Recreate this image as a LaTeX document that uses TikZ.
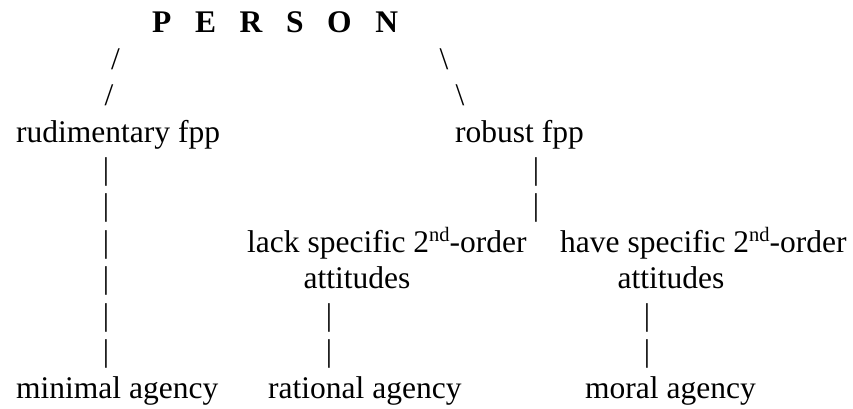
\documentclass[tikz,border=0pt]{standalone}
\usepackage{fontspec}
\setmainfont{Liberation Serif}
\usetikzlibrary{positioning}

\tikzset{
	txt/.style={inner sep=0pt, anchor=base west, font=\fontsize{31.5}{36.5}\selectfont},
	ctxt/.style={txt, anchor=base},
	bar/.style={txt, anchor=base}
}
\newcommand{\ordsup}[1]{\raisebox{0.33em}{\fontsize{20.5}{20.5}\selectfont #1}}

\begin{document}
\begin{tikzpicture}[x=1pt, y=-1pt]
	\useasboundingbox (0,0) rectangle (853,409);

	%Nodes
	\node[txt, font=\fontsize{31.5}{36.5}\selectfont\bfseries] (person) at (152,33) {P\ \ \ E\ \ \ R\ \ \ S\ \ \ O\ \ \ N};
	\node[txt] (rud) 	at 	(16,142.5) 	{rudimentary fpp};
	\node[txt] (rob) 	at 	(455,142.5) 	{robust fpp};
	\node[txt] (lack) 	at 	(247,252) 	{lack specific 2\ordsup{nd}-order};
	\node[ctxt] (lackb) 	at 	(357,288.5) 	{attitudes};
	\node[txt] (have) 	at 	(560,252) 	{have specific 2\ordsup{nd}-order};
	\node[ctxt] (haveb) 	at 	(671,288.5) 	{attitudes};
	\node[txt] (mini) 	at 	(16,398) 	{minimal agency};
	\node[txt] (rat) 	at 	(268,398) 	{rational agency};
	\node[txt] (mor) 	at 	(585,398) 	{moral agency};

	%Lines
	\node[bar] (sl1) 	at 	(115.5,69.5) 	{/};
	\node[bar] (sl2) 	at 	(109,106) 	{/};
	\node[bar] (bs1) 	at 	(444,69.5) 	{\textbackslash};
	\node[bar] (bs2) 	at 	(460,106) 	{\textbackslash};

	\node[bar] (rud1) 	at 	(106,179) 	{|};
	\node[bar] (rud2) 	at 	(106,215.5) 	{|};
	\node[bar] (rud3) 	at 	(106,252) 	{|};
	\node[bar] (rud4) 	at 	(106,288.5) 	{|};
	\node[bar] (rud5) 	at 	(106,325) 	{|};
	\node[bar] (rud6) 	at 	(106,361.5) 	{|};

	\node[bar] (rob1) 	at 	(536,179) 	{|};
	\node[bar] (rob2) 	at 	(536,215.5) 	{|};

	\node[bar] (rat1) 	at 	(329,325) 	{|};
	\node[bar] (rat2) 	at 	(329,361.5) 	{|};

	\node[bar] (mor1) 	at 	(647,325) 	{|};
	\node[bar] (mor2) 	at 	(647,361.5) 	{|};

\end{tikzpicture}
\end{document}
